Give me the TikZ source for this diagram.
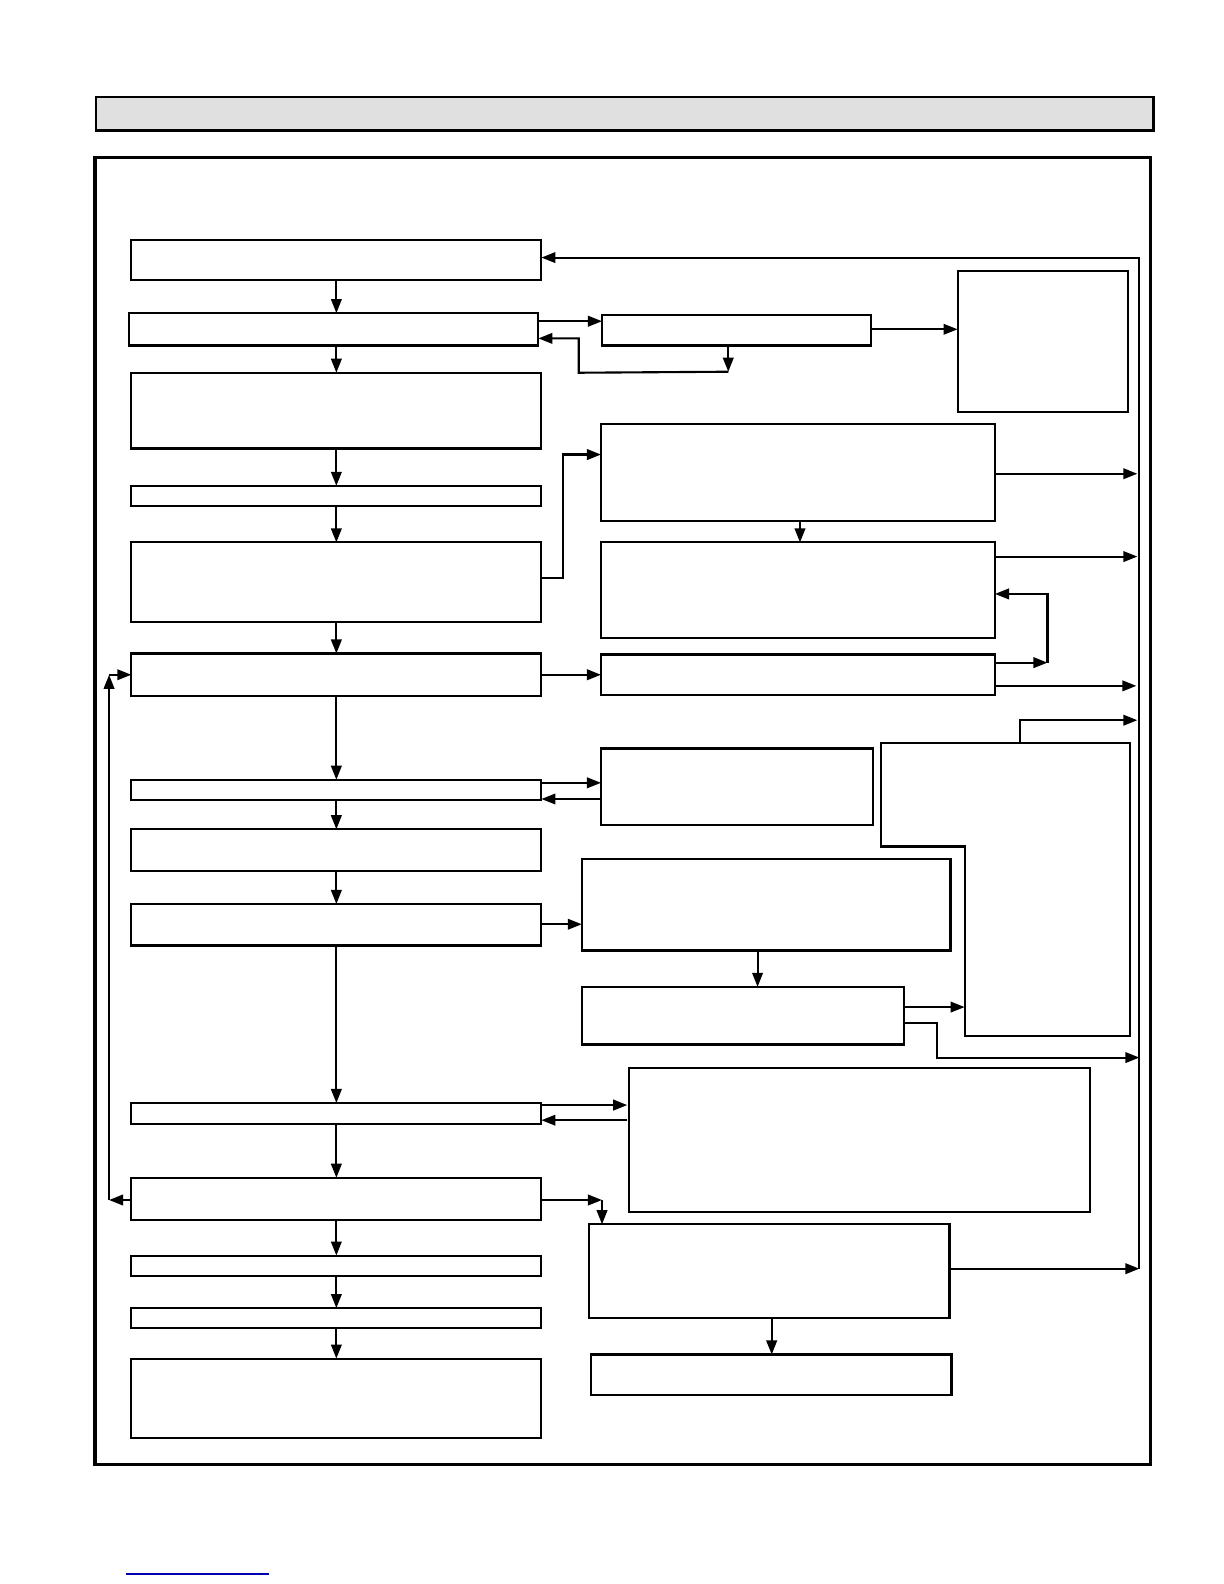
\documentclass[tikz,border=0pt]{standalone}
\usetikzlibrary{arrows.meta}
\newcommand\bx[5]{\node[box,minimum width={(#4-#2)*0.0101cm},minimum height={(#5-#3)*0.0101cm}] (#1) at ({(#2+#4)/2},{(#3+#5)/2}) {};}
\begin{document}
\begin{tikzpicture}[x=0.0101cm,y=-0.0101cm,
  box/.style={draw,line width=0.6pt,inner sep=0pt,outer sep=0pt},
  arr/.style={line width=0.6pt,-{Triangle[length=4pt,width=3pt]}},
  ln/.style={line width=0.6pt}]
\useasboundingbox (0cm,0cm) rectangle (12.24cm,-15.84cm);
\bx{hdr}{95}{96}{1142}{129}
\fill[black!12] (hdr.south west) rectangle (hdr.north east);
\draw[line width=0.8pt] (hdr.south west) rectangle (hdr.north east);
\bx{frame}{94}{156}{1139}{1450}
\draw[line width=1pt] (frame.south west) rectangle (frame.north east);
\bx{L1}{130}{238}{536}{277}
\bx{L2}{128}{310}{533}{342}
\bx{L3}{130}{369}{536}{444}
\bx{L4}{130}{481}{536}{501}
\bx{L5}{130}{537}{536}{616}
\bx{L6}{130}{647}{536}{689}
\bx{L7}{130}{772}{536}{792}
\bx{L8}{130}{821}{536}{862}
\bx{L9}{130}{895}{536}{936}
\bx{L10}{130}{1092}{536}{1113}
\bx{L11}{130}{1166}{536}{1208}
\bx{L12}{130}{1243}{536}{1263}
\bx{L13}{130}{1295}{536}{1315}
\bx{L14}{130}{1345}{536}{1424}
\bx{R1}{596}{312}{862}{342}
\bx{R2}{948}{268}{1117}{408}
\bx{R3}{595}{420}{985}{516}
\bx{R4}{595}{537}{985}{632}
\bx{R5}{595}{648}{985}{688}
\bx{R6}{595}{741}{864}{817}
\bx{R7}{576}{850}{941}{941}
\bx{R8}{576}{977}{895}{1034}
\bx{R9}{623}{1057}{1079}{1200}
\bx{R10}{583}{1212}{940}{1305}
\bx{R11}{585}{1341}{942}{1381}
\draw[ln] (872,736) -- (1119,736) -- (1119,1026) -- (955,1026) -- (955,838) -- (872,838) -- cycle;
\coordinate (Ptop) at (1010,736);
\coordinate (Pleft) at (955,997);
\foreach \a/\b in {L1/L2,L2/L3,L3/L4,L4/L5,L5/L6,L6/L7,L7/L8,L8/L9,L9/L10,L10/L11,L11/L12,L12/L13,L13/L14}
  \draw[arr] (\a.south -| 333,0) -- (\b.north -| 333,0);
\draw[arr] (L2.east |- 0,318) -- (R1.west |- 0,318);
\draw[arr] (R1.south -| 721,0) -- (721,368);
\draw[arr] (721,368) -- (573,369) -- (573,335) -- (L2.east |- 0,335);
\draw[arr] (R1.east |- 0,326) -- (R2.west |- 0,326);
\draw[arr] (L5.east |- 0,572) -- (557,572) -- (557,450) -- (R3.west |- 0,450);
\draw[arr] (R3.south -| 792,0) -- (R4.north -| 792,0);
\coordinate (ret) at (1128,255);
\draw[arr] (R3.east |- 0,469) -- (1126,469);
\draw[arr] (R4.east |- 0,551) -- (1126,551);
\draw[arr] (L6.east |- 0,668) -- (R5.west |- 0,668);
\draw[arr] (R5.east |- 0,656) -- (1037,656);
\draw[arr] (1037,656) -- (1037,588) -- (R4.east |- 0,588);
\draw[arr] (R5.east |- 0,679) -- (1125,679);
\draw[arr] (Ptop) -- (1010,713) -- (1126,713);
\draw[arr] (L7.east |- 0,775) -- (R6.west |- 0,775);
\draw[arr] (R6.west |- 0,791) -- (L7.east |- 0,791);
\draw[arr] (L9.east |- 0,915) -- (R7.west |- 0,915);
\draw[arr] (R7.south -| 750,0) -- (R8.north -| 750,0);
\draw[arr] (R8.east |- 0,997) -- (Pleft);
\draw[arr] (R8.east |- 0,1013) -- (928,1013) -- (928,1047) -- (1128,1047);
\draw[arr] (L10.east |- 0,1094) -- (621,1094);
\draw[arr] (621,1109) -- (L10.east |- 0,1109);
\draw[arr] (L11.east |- 0,1188) -- (596,1188);
\draw[arr] (596,1188) -- (R10.north -| 596,0);
\draw[arr] (R10.east |- 0,1256) -- (1128,1256);
\draw[arr] (R10.south -| 764,0) -- (R11.north -| 764,0);
\draw[arr] (1128,1256) -- (ret) -- (L1.east |- 0,255);
\draw[arr] (L11.west |- 0,1188) -- (108,1188);
\draw[arr] (108,1188) -- (108,668);
\draw[arr] (108,668) -- (L6.west |- 0,668);
\draw[blue!70!black,line width=0.5pt] (125,1558) -- (266,1558);
\end{tikzpicture}
\end{document}
